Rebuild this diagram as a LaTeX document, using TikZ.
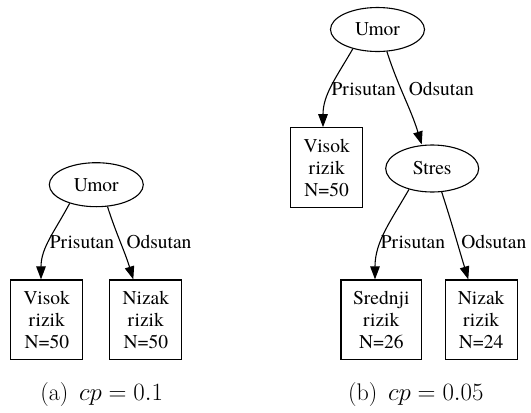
\documentclass[tikz,border=0pt]{standalone}
\usepackage{fontspec}
\newfontfamily\tms{texgyretermes-regular.otf}
\usetikzlibrary{shapes.geometric,arrows.meta}
\begin{document}
\begin{tikzpicture}[x=1pt,y=-1pt,
  every node/.style={font=\tms\fontsize{19.5}{22}\selectfont},
  ell/.style={ellipse,draw,line width=1.1pt,minimum width=94pt,minimum height=44pt,inner sep=0pt},
  leaf/.style={rectangle,draw,line width=1.1pt,minimum width=72pt,minimum height=79.5pt,align=center,inner sep=0pt},
  lbl/.style={anchor=base,inner sep=0pt},
  captxt/.style={anchor=base,inner sep=0pt,font=\rmfamily\fontsize{24}{28}\selectfont},
  conn/.style={line width=1.1pt,-{Triangle[length=13pt,width=9.5pt]}}]
\useasboundingbox (0,0) rectangle (531,413);
% (a)
\node[ell] (umorA) at (96.3,184.7) {Umor};
\node[leaf] (visokA) at (46.8,319.7) {Visok\\rizik\\N=50};
\node[leaf] (nizakA) at (145.8,319.7) {Nizak\\rizik\\N=50};
\draw[conn] (umorA.-145) to[out=-118,in=90] ([xshift=-5.8pt]visokA.north);
\draw[conn] (umorA.-63) to[out=-72,in=107] ([xshift=-12.5pt]nizakA.north);
\node[lbl] (pA) at (82,248) {Prisutan};
\node[lbl] (oA) at (159,248) {Odsutan};
\node[captxt] (capA) at (101.7,400) {(a)\hspace{0.45em}$cp=0.1$};
% (b)
\node[ell] (umorB) at (377.5,29.5) {Umor};
\node[leaf] (visokB) at (326.7,167.5) {Visok\\rizik\\N=50};
\node[ell,minimum height=47pt,minimum width=93pt] (stres) at (432.2,168.5) {Stres};
\node[leaf,minimum width=80.7pt] (srednji) at (381.3,319.7) {Srednji\\rizik\\N=26};
\node[leaf] (nizakB) at (481.2,319.7) {Nizak\\rizik\\N=24};
\draw[conn] (umorB.-142) to[out=-120,in=90] ([xshift=-3.7pt]visokB.north);
\draw[conn] (umorB.-67) to[out=-72,in=107] ([xshift=-10.5pt]stres.north);
\draw[conn] (stres.-138) to[out=-120,in=90] ([xshift=-6.3pt]srednji.north);
\draw[conn] (stres.-68) to[out=-72,in=107] ([xshift=-12.9pt]nizakB.north);
\node[lbl] (pB) at (363.7,95) {Prisutan};
\node[lbl] (oB) at (441.3,95) {Odsutan};
\node[lbl] (pC) at (413,248) {Prisutan};
\node[lbl] (oC) at (493.8,248) {Odsutan};
\node[captxt] (capB) at (415.8,400) {(b)\hspace{0.45em}$cp=0.05$};
\end{tikzpicture}
\end{document}
